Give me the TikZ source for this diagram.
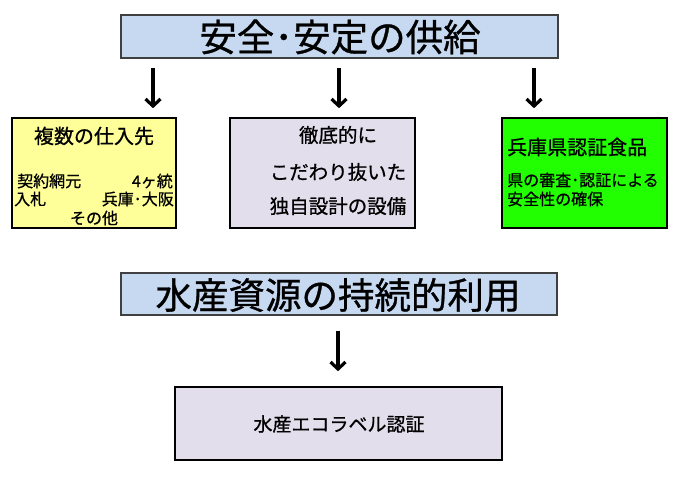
\documentclass[tikz,border=0pt]{standalone}
\usepackage{fontspec}
\setmainfont{Noto Sans CJK JP}[FakeBold=0.8]
\usetikzlibrary{arrows.meta}
\definecolor{hdrblue}{HTML}{C6D9F1}
\definecolor{boxyellow}{HTML}{FFFF99}
\definecolor{boxlav}{HTML}{E2DEEC}
\definecolor{boxgreen}{HTML}{22FF00}
\tikzset{
  hdr/.style={draw=black!75, line width=1.3pt, fill=hdrblue, inner sep=0pt},
  card/.style={draw=black, line width=1.6pt, inner sep=0pt},
  txt/.style={inner sep=0pt},
  arr/.style={line width=3.5pt, -{Straight Barb[length=7pt,width=15pt,line width=3.2pt]}},
}
\begin{document}
\begin{tikzpicture}[x=1pt,y=-1pt]
\useasboundingbox (0,0) rectangle (682,477);
% header boxes
\node[hdr, minimum width=437pt, minimum height=43pt] (top) at (339.5,36.5) {};
\node[txt, font=\fontsize{37.5}{37.5}\selectfont] (toptxt) at (340,37) {安全･安定の供給};
\node[hdr, minimum width=436pt, minimum height=42pt] (mid) at (339,294) {};
\node[txt, font=\fontsize{36.5}{36.5}\selectfont] (midtxt) at (338,295) {水産資源の持続的利用};
% three cards
\node[card, fill=boxyellow, minimum width=164pt, minimum height=110pt] (yel) at (94,173) {};
\node[card, fill=boxlav, minimum width=185pt, minimum height=110pt] (lav) at (322.5,173) {};
\node[card, fill=boxgreen, minimum width=165pt, minimum height=110pt] (grn) at (584.5,173) {};
\node[card, fill=boxlav, minimum width=327pt, minimum height=73pt] (eco) at (338.5,423.5) {};
% yellow card text
\node[txt, font=\fontsize{20}{20}\selectfont] (y1) at (94,136) {複数の仕入先};
\node[txt, anchor=west, font=\fontsize{16}{16}\selectfont] (y2) at (17,181) {契約網元};
\node[txt, anchor=east, font=\fontsize{16}{16}\selectfont] (y3) at (173,181) {4ヶ統};
\node[txt, anchor=west, font=\fontsize{16}{16}\selectfont] (y4) at (14,199) {入札};
\node[txt, anchor=east, font=\fontsize{16}{16}\selectfont] (y5) at (174,199) {兵庫･大阪};
\node[txt, font=\fontsize{16}{16}\selectfont] (y6) at (94,218) {その他};
% lavender card text
\node[txt, font=\fontsize{19.5}{19.5}\selectfont] (l1) at (338,135) {徹底的に};
\node[txt, font=\fontsize{19.5}{19.5}\selectfont] (l2) at (338,172) {こだわり抜いた};
\node[txt, font=\fontsize{19.5}{19.5}\selectfont] (l3) at (338,206) {独自設計の設備};
% green card text
\node[txt, anchor=west, font=\fontsize{20}{20}\selectfont] (g1) at (507,147) {兵庫県認証食品};
\node[txt, anchor=west, font=\fontsize{16}{16}\selectfont] (g2) at (507,180) {県の審査･認証による};
\node[txt, anchor=west, font=\fontsize{16}{16}\selectfont] (g3) at (507,199) {安全性の確保};
% eco card text
\node[txt, font=\fontsize{19}{19}\selectfont] (e1) at (339,424) {水産エコラベル認証};
% arrow columns
\coordinate (xa) at (153,0);
\coordinate (xb) at (339,0);
\coordinate (xc) at (534,0);
\coordinate (xd) at (338,0);
\draw[arr, shorten <=9pt, shorten >=9pt] (top.south -| xa) -- (yel.north -| xa);
\draw[arr, shorten <=9pt, shorten >=9pt] (top.south -| xb) -- (lav.north -| xb);
\draw[arr, shorten <=9pt, shorten >=9pt] (top.south -| xc) -- (grn.north -| xc);
\draw[arr, shorten <=15pt, shorten >=15pt] (mid.south -| xd) -- (eco.north -| xd);
\end{tikzpicture}
\end{document}
